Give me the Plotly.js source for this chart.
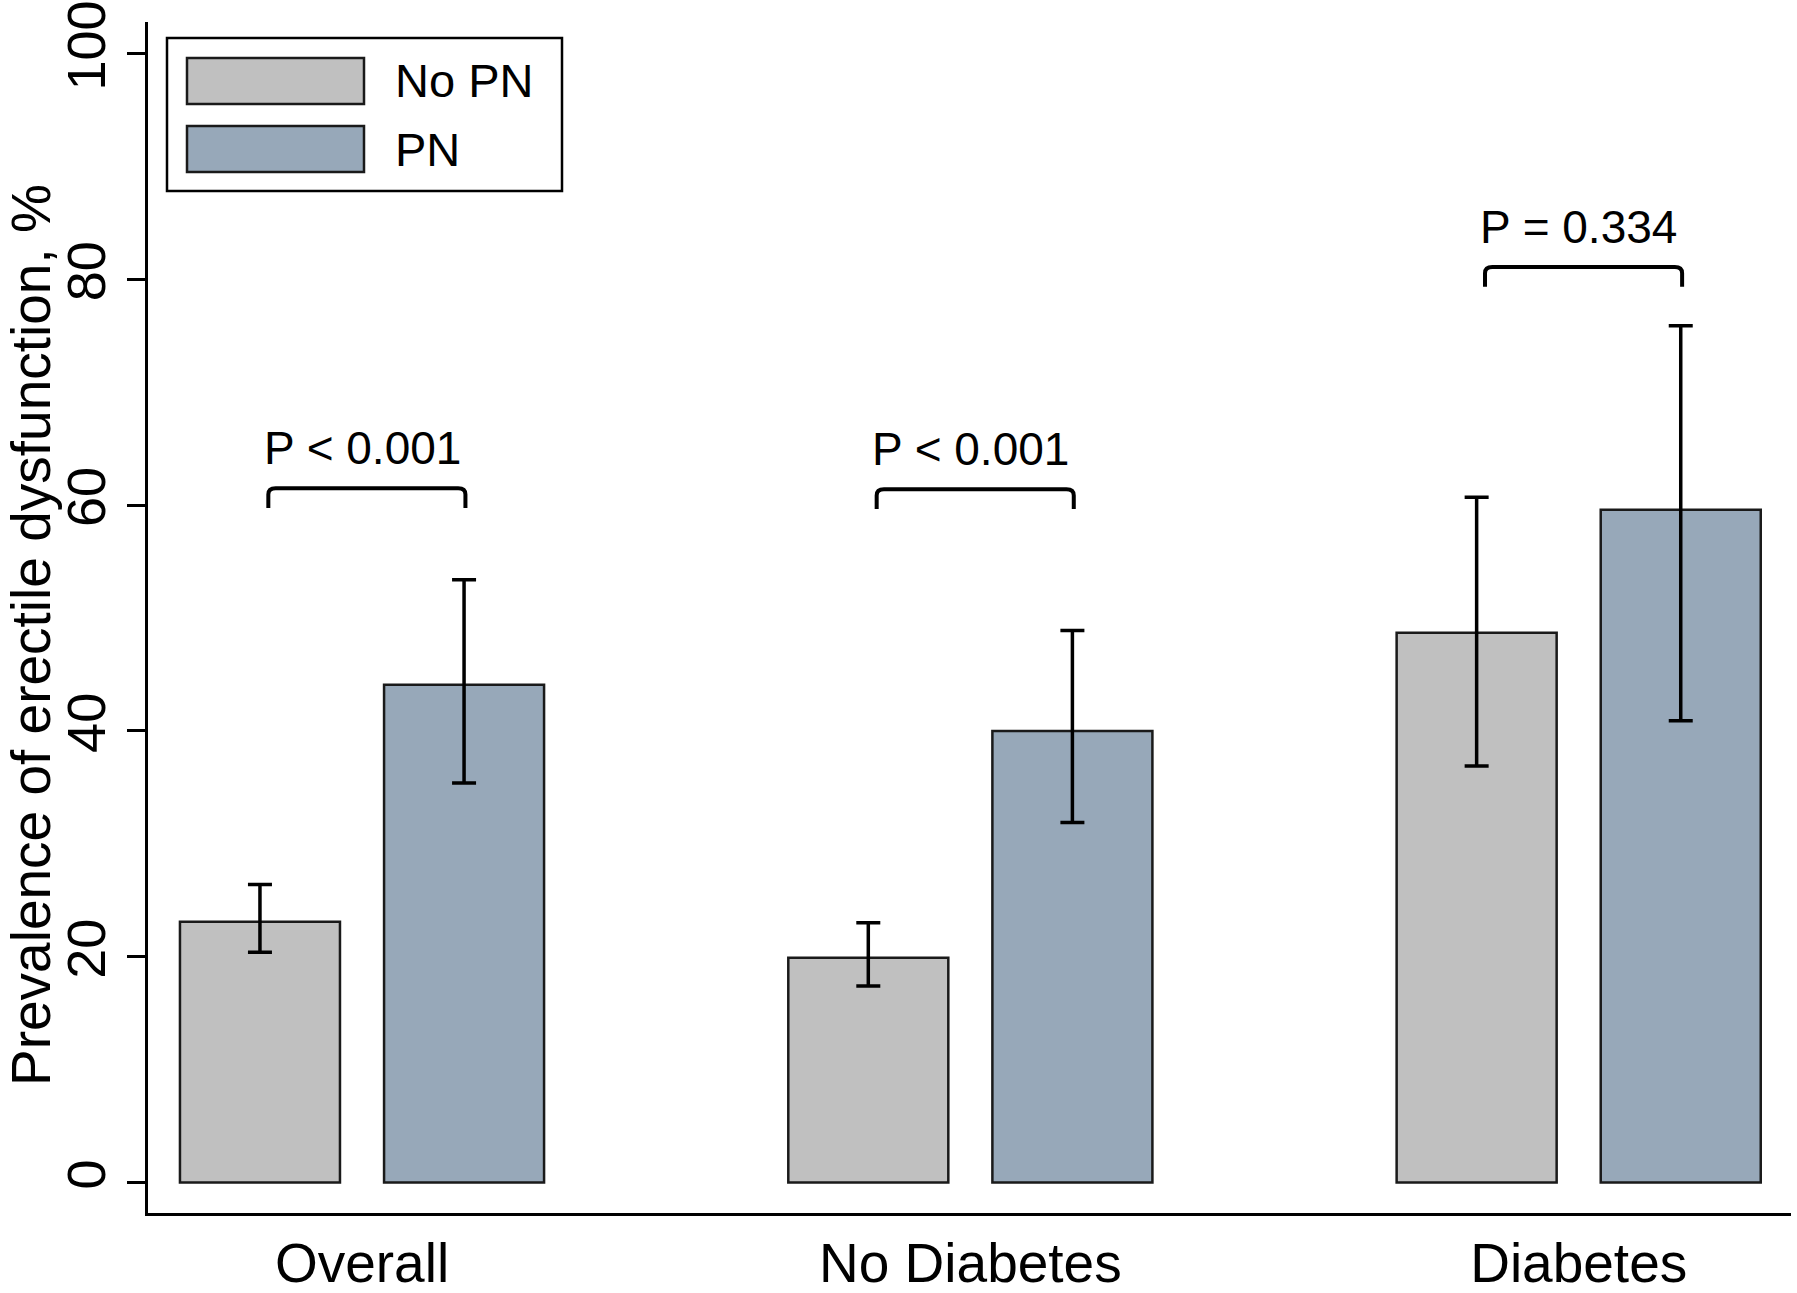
<!DOCTYPE html>
<html>
<head>
<meta charset="utf-8">
<script src="https://cdn.plot.ly/plotly-3.0.1.min.js"></script>
<style>html,body{margin:0;padding:0;background:#fff;}#chart{width:1797px;height:1293px;}</style>
</head>
<body>
<div id="chart"></div>
<script>
// ---- data ----
const categories = ["Overall", "No Diabetes", "Diabetes"];
const seriesNames = ["No PN", "PN"];
const noPN     = [23.1, 19.9, 48.7];
const noPNLow  = [20.4, 17.4, 36.9];
const noPNHigh = [26.4, 23.0, 60.7];
const pn       = [44.1, 40.0, 59.6];
const pnLow    = [35.4, 31.9, 40.9];
const pnHigh   = [53.4, 48.9, 75.9];
const pLabels  = ["P < 0.001", "P < 0.001", "P = 0.334"];
const bracketLevel = [61.5, 61.4, 81.1];
const yTicks = [0, 20, 40, 60, 80, 100];

// ---- styling ----
const FONT = "Liberation Sans, Arial, Helvetica, sans-serif";
const colors = ["#c0c0c0", "#97a8b9"];
const xIdx = categories.map((c, i) => i);

function barTrace(name, vals, lo, hi, color) {
  return {
    type: "bar", name: name, x: xIdx, y: vals,
    marker: { color: color, line: { color: "#1a1a1a", width: 2.5 } },
    error_y: {
      type: "data", symmetric: false,
      array: vals.map((v, i) => hi[i] - v),
      arrayminus: vals.map((v, i) => v - lo[i]),
      color: "#000", thickness: 3.5, width: 12
    },
    showlegend: false, hoverinfo: "skip"
  };
}

const traces = [
  barTrace(seriesNames[0], noPN, noPNLow, noPNHigh, colors[0]),
  barTrace(seriesNames[1], pn, pnLow, pnHigh, colors[1])
];

// layout geometry
const L = 148, R = 6, T = 22, B = 80, W = 1797, H = 1293;
const pw = W - L - R, ph = H - T - B;
const px = v => (v - L) / pw;
const py = v => (H - B - v) / ph;

const shapes = [];
const annotations = [];
const off = 0.166, r = 0.012, rdy = 0.55, drop = 1.75;
categories.forEach((c, i) => {
  const x0 = i - off + 0.012, x1 = i + off + 0.004, yt = bracketLevel[i], yb = yt - drop;
  shapes.push({
    type: "path", xref: "x", yref: "y",
    path: `M ${x0},${yb} L ${x0},${yt - rdy} Q ${x0},${yt} ${x0 + r},${yt} L ${x1 - r},${yt} Q ${x1},${yt} ${x1},${yt - rdy} L ${x1},${yb}`,
    line: { color: "#000", width: 4 }
  });
  annotations.push({
    xref: "x", yref: "y", x: i, y: yt, yanchor: "bottom", xanchor: "center",
    yshift: 12, text: pLabels[i], showarrow: false,
    font: { family: FONT, size: 46, color: "#000" }
  });
});

// custom legend
shapes.push({ type: "rect", xref: "paper", yref: "paper",
  x0: px(167), x1: px(562), y0: py(191), y1: py(38),
  line: { color: "#000", width: 2.5 }, fillcolor: "#fff" });
const swY = [[58, 104], [126, 172]];
seriesNames.forEach((n, k) => {
  shapes.push({ type: "rect", xref: "paper", yref: "paper",
    x0: px(187), x1: px(364), y0: py(swY[k][1]), y1: py(swY[k][0]),
    line: { color: "#1a1a1a", width: 2.5 }, fillcolor: colors[k] });
  annotations.push({ xref: "paper", yref: "paper", x: px(393), y: py((swY[k][0] + swY[k][1]) / 2),
    xanchor: "left", yanchor: "middle", text: n, showarrow: false,
    font: { family: FONT, size: 47, color: "#000" } });
});

// y-axis title
annotations.push({ xref: "paper", yref: "paper", x: px(31), y: py(635),
  xanchor: "center", yanchor: "middle", textangle: -90,
  text: "Prevalence of erectile dysfunction, %", showarrow: false,
  font: { family: FONT, size: 55, color: "#000" } });

const layout = {
  width: W, height: H,
  margin: { l: L, r: R, t: T, b: B, pad: 0 },
  paper_bgcolor: "#fff", plot_bgcolor: "#fff",
  font: { family: FONT, color: "#000" },
  barmode: "group", bargap: 0.329, bargroupgap: 0.216,
  xaxis: {
    range: [-0.3518, 2.349], tickmode: "array", tickvals: xIdx, ticktext: categories,
    showline: true, linecolor: "#000", linewidth: 2.5, ticks: "",
    showgrid: false, zeroline: false, fixedrange: true,
    tickfont: { family: FONT, size: 55, color: "#000" }
  },
  yaxis: {
    range: [-2.7, 102.8], tickmode: "array", tickvals: yTicks,
    ticks: "outside", ticklen: 18, tickwidth: 3, tickcolor: "#000",
    showline: true, linecolor: "#000", linewidth: 3,
    showgrid: false, zeroline: false, tickangle: -90, fixedrange: true,
    tickfont: { family: FONT, size: 54, color: "#000" }
  },
  shapes: shapes,
  annotations: annotations,
  showlegend: false
};

Plotly.newPlot("chart", traces, layout, { displayModeBar: false, staticPlot: true });
</script>
</body>
</html>
